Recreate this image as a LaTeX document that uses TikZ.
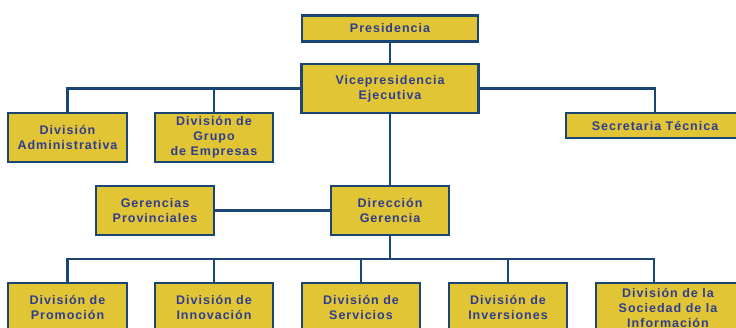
\documentclass[tikz,border=0pt]{standalone}
\usepackage{fontspec}
\setmainfont{Liberation Sans}
\usetikzlibrary{backgrounds}
\definecolor{linec}{HTML}{1B4572}
\definecolor{boxc}{HTML}{E2C535}
\definecolor{txtc}{HTML}{2E3D8F}
\tikzset{
  box/.style={draw=linec, line width=2.6pt, fill=boxc, text=txtc, inner sep=0pt,
    minimum height=49pt, align=center,
    font=\fontsize{12.5}{15}\selectfont\bfseries\addfontfeatures{LetterSpace=8}},
  conn/.style={draw=linec, line width=2.6pt}
}
\begin{document}
\begin{tikzpicture}[x=1pt,y=-1pt]
\clip (0,0) rectangle (736,327);
\useasboundingbox (0,0) rectangle (736,327);
\node[box, minimum width=176pt, minimum height=26pt] (pres) at (390,28.5) {Presidencia};
\node[box, minimum width=177pt] (vice) at (390,88.5) {Vicepresidencia\\Ejecutiva};
\node[box, minimum width=119pt] (adm) at (67.5,137.5) {División\\Administrativa};
\node[box, minimum width=118pt] (grupo) at (214,137.5) {División de\\Grupo\\de Empresas};
\node[box, minimum width=178pt, minimum height=25pt] (sec) at (655,125.5) {Secretaria Técnica};
\node[box, minimum width=118pt] (gp) at (155,210.5) {Gerencias\\Provinciales};
\node[box, minimum width=118pt] (dg) at (390,210.5) {Dirección\\Gerencia};
\node[box, minimum width=119pt] (b1) at (67.5,307.5) {División de\\Promoción};
\node[box, minimum width=118pt] (b2) at (214,307.5) {División de\\Innovación};
\node[box, minimum width=118pt] (b3) at (361,307.5) {División de\\Servicios};
\node[box, minimum width=118pt] (b4) at (508,307.5) {División de\\Inversiones};
\node[box, minimum width=144pt] (b5) at (668,307.5) {División de la\\Sociedad de la\\Información};
\coordinate (bus) at (390,259);
\coordinate (b5top) at (654,283);
\begin{scope}[on background layer]
\draw[conn] (pres) -- (vice);
\draw[conn] (vice) -- (dg);
\draw[conn] (adm.north) |- (vice.west);
\draw[conn] (grupo.north) -- (grupo.north |- vice.west);
\draw[conn] (vice.east) -| (sec.north);
\draw[conn] (gp.east) -- (dg.west);
\draw[conn] (dg.south) -- (bus);
\draw[conn] (bus) -| (b1.north);
\draw[conn] (bus) -| (b2.north);
\draw[conn] (bus) -| (b3.north);
\draw[conn] (bus) -| (b4.north);
\draw[conn] (bus) -| (b5top);
\end{scope}
\end{tikzpicture}
\end{document}
